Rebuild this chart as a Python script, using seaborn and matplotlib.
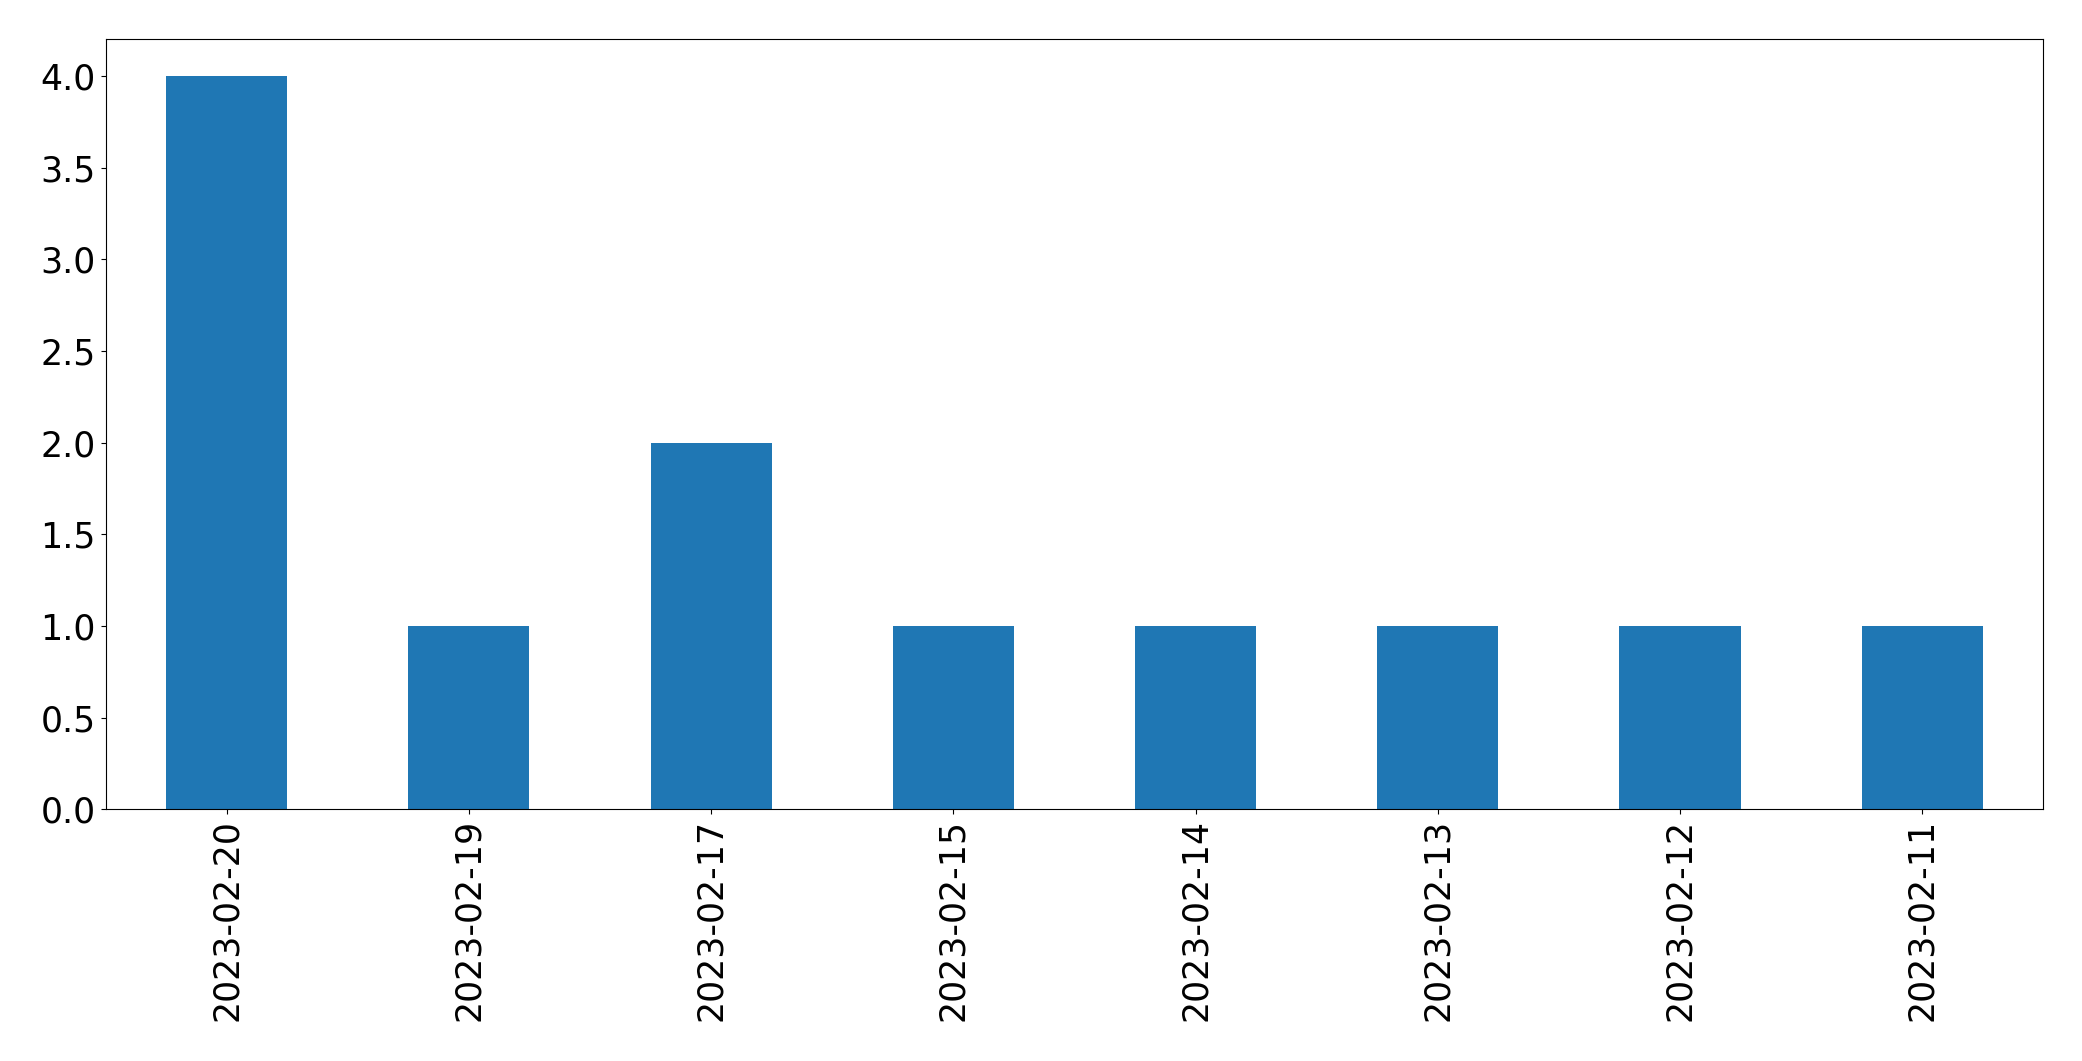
"""
Daily counts bar chart, dates in descending order.
"""

import pandas as pd
import matplotlib
matplotlib.use("Agg")
import matplotlib.pyplot as plt
import seaborn as sns

# === Data ===
dates = ['2023-02-20', '2023-02-19', '2023-02-17', '2023-02-15',
         '2023-02-14', '2023-02-13', '2023-02-12', '2023-02-11']
counts = [4, 1, 2, 1, 1, 1, 1, 1]

df = pd.DataFrame({'date': dates, 'count': counts})

fig, ax = plt.subplots(figsize=(20.82, 10.61), dpi=100)
fig.subplots_adjust(left=105.5 / 2082, right=2043.3 / 2082,
                    top=1 - 39.3 / 1061, bottom=1 - 809.3 / 1061)

sns.barplot(data=df, x='date', y='count', order=dates, color='#1f77b4',
            saturation=1, width=0.5, linewidth=0, ax=ax)

ax.set_xlim(-0.5, len(dates) - 0.5)
ax.set_ylim(0, 4.2)
ax.set_xlabel('')
ax.set_ylabel('')
ax.tick_params(axis='both', labelsize=25)
ax.tick_params(axis='x', labelrotation=90)

fig.savefig('out.png', dpi=100)
